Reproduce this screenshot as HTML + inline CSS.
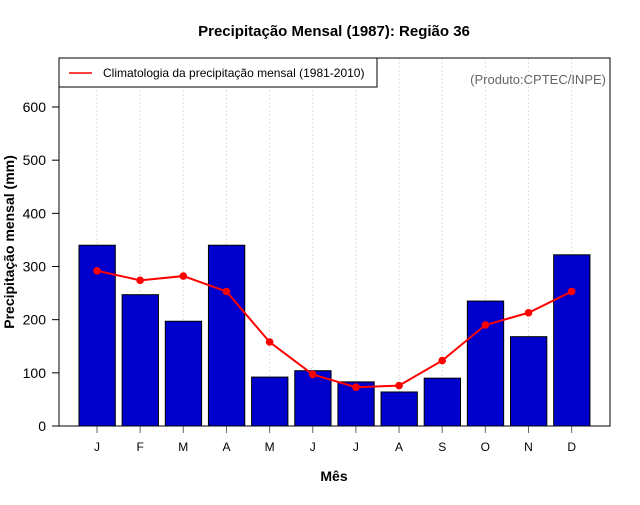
<!DOCTYPE html>
<html><head><meta charset="utf-8"><style>
body{margin:0;background:#fff;}
svg text{font-family:"Liberation Sans",sans-serif;}
</style></head><body>
<svg id="c" width="640" height="500" xmlns="http://www.w3.org/2000/svg">
<rect width="640" height="500" fill="#fff"/>
<text x="334" y="36" text-anchor="middle" font-size="15" font-weight="bold">Precipitação Mensal (1987): Região 36</text>
<g id="grid"></g><g id="bars"></g><g id="line"></g><g id="axes"></g>
<rect x="59" y="58" width="551" height="368" fill="none" stroke="#000" stroke-width="1"/>
<g>
<rect x="59" y="58" width="318" height="29" fill="#fff" stroke="#000" stroke-width="1"/>
<line x1="69" y1="73" x2="92" y2="73" stroke="red" stroke-width="1.5"/>
<text x="103" y="77" font-size="12">Climatologia da precipitação mensal (1981-2010)</text>
</g>
<text x="606" y="84" text-anchor="end" font-size="13" fill="#666">(Produto:CPTEC/INPE)</text>
<text x="334" y="481" text-anchor="middle" font-size="14" font-weight="bold">Mês</text>
<text transform="translate(14,242) rotate(-90)" text-anchor="middle" font-size="14" font-weight="bold">Precipitação mensal (mm)</text>
</svg>
<script>
const months=["J","F","M","A","M","J","J","A","S","O","N","D"];
const precip=[340,247,197,340,92,104,83,64,90,235,168,322];
const clim=[292,274,282,253,158,97,73,76,123,190,213,253];
const yTicks=[0,100,200,300,400,500,600];
const NS="http://www.w3.org/2000/svg";
const xS=i=>97+43.15*i;
const yS=v=>426-v*(319/600);
function mk(t,a,p){const e=document.createElementNS(NS,t);for(const k in a)e.setAttribute(k,a[k]);p.appendChild(e);return e;}
const grid=document.getElementById('grid'),bars=document.getElementById('bars'),line=document.getElementById('line'),axes=document.getElementById('axes');
months.forEach((m,i)=>{
 const g=mk('line',{x1:xS(i),x2:xS(i),y1:58,y2:426,stroke:'#ddd','stroke-dasharray':'2,2'},grid);
 
 
 const b=mk('rect',{x:xS(i)-18,y:yS(precip[i]),width:36.3,height:yS(0)-yS(precip[i]),fill:'#0000cc',stroke:'#000','stroke-width':1},bars);
 
 
 const t=mk('line',{x1:xS(i),x2:xS(i),y1:426,y2:433,stroke:'#666'},axes);
 
 
 const l=mk('text',{x:xS(i),y:451,'text-anchor':'middle','font-size':12},axes);l.textContent=m;
 
 
});
const pl=mk('polyline',{points:clim.map((v,i)=>xS(i)+','+yS(v)).join(' '),fill:'none',stroke:'red','stroke-width':2},line);


clim.forEach((v,i)=>{const c=mk('circle',{cx:xS(i),cy:yS(v),r:3.8,fill:'red'},line);
 
 });
const ya=mk('line',{x1:59,x2:59,y1:yS(0),y2:yS(600),stroke:'#000'},axes);


yTicks.forEach(v=>{
 const t=mk('line',{x1:52,x2:59,y1:yS(v),y2:yS(v),stroke:'#000'},axes);
 
 
 const l=mk('text',{x:46,y:yS(v)+5,'text-anchor':'end','font-size':14},axes);l.textContent=v;
 
 
});
</script>
</body></html>
